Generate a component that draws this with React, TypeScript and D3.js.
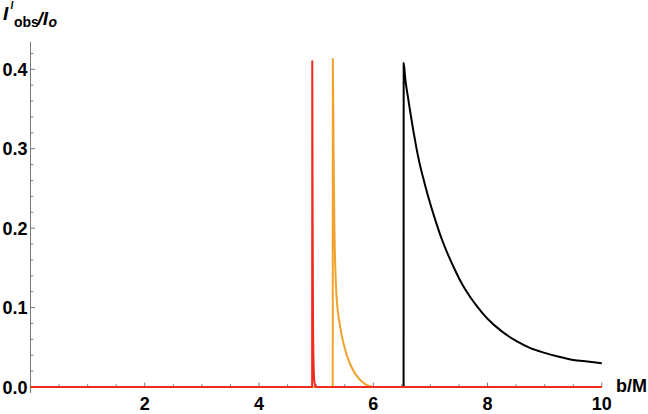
import React from "react";
import * as d3 from "d3";

// ---- data ----
const xTicksMajor = [2, 4, 6, 8, 10];
const yTicksMajor = [0.0, 0.1, 0.2, 0.3, 0.4];
const yTickLabels = ["0.0", "0.1", "0.2", "0.3", "0.4"];

const blackB = [0, 6.53, 6.532, 6.56, 6.6, 6.65, 6.7, 6.75, 6.8, 6.9, 7.0, 7.1, 7.2, 7.3, 7.4, 7.5, 7.6, 7.7, 7.8, 7.9, 8.0, 8.25, 8.5, 8.75, 9.0, 9.25, 9.5, 9.75, 10];
const blackI = [0, 0, 0.408, 0.388, 0.368, 0.345, 0.323, 0.303, 0.285, 0.256, 0.230, 0.207, 0.186, 0.168, 0.152, 0.137, 0.124, 0.113, 0.103, 0.094, 0.086, 0.070, 0.058, 0.049, 0.043, 0.038, 0.034, 0.032, 0.030];

const orangeB = [0, 5.29, 5.292, 5.305, 5.32, 5.34, 5.37, 5.4, 5.45, 5.5, 5.55, 5.6, 5.7, 5.8, 5.9, 6.0, 10];
const orangeI = [0, 0, 0.413, 0.30, 0.20, 0.14, 0.102, 0.085, 0.064, 0.049, 0.037, 0.028, 0.015, 0.007, 0.002, 0, 0];

const redB = [0, 4.93, 4.932, 4.938, 4.945, 4.955, 4.97, 5.0, 10];
const redI = [0, 0, 0.41, 0.22, 0.09, 0.03, 0.006, 0, 0];

const W = 648;
const H = 414;

export default function App() {
  const x = d3.scaleLinear().domain([0, 10]).range([30.5, 601.8]);
  const y = d3.scaleLinear().domain([0, 0.4]).range([387, 69.3]);
  const yTop = 0.4348;
  const yBottom = -0.0075;

  const line = d3
    .line<[number, number]>()
    .x((d) => x(d[0]))
    .y((d) => y(d[1]))
    .curve(d3.curveMonotoneX);

  const zip = (a: number[], b: number[]) => a.map((v, i) => [v, b[i]] as [number, number]);

  const axisColor = "#7a7a7a";
  const font = "'Liberation Sans', Arial, sans-serif";

  const xMinor = d3.range(0.5, 10.01, 0.5).filter((v) => Math.abs(v % 2) > 1e-6);
  const yMinor = d3.range(0.02, 0.4301, 0.02).filter((v) => Math.abs(Math.round(v * 10) - v * 10) > 1e-6);

  return (
    <svg width={W} height={H} style={{ position: "absolute", left: 0, top: 0, background: "#fff" }}>
      {/* axes */}
      <line x1={x(0)} x2={x(10)} y1={y(0)} y2={y(0)} stroke={axisColor} strokeWidth={1} />
      <line x1={x(0)} x2={x(0)} y1={y(yBottom)} y2={y(yTop)} stroke={axisColor} strokeWidth={1} />
      {xTicksMajor.map((t) => (
        <line key={"xM" + t} x1={x(t)} x2={x(t)} y1={y(0)} y2={y(0) - 4.5} stroke={axisColor} strokeWidth={1} />
      ))}
      {xMinor.map((t) => (
        <line key={"xm" + t} x1={x(t)} x2={x(t)} y1={y(0)} y2={y(0) - 2.8} stroke={axisColor} strokeWidth={1} />
      ))}
      {yTicksMajor.map((t) => (
        <line key={"yM" + t} x1={x(0)} x2={x(0) + 4.5} y1={y(t)} y2={y(t)} stroke={axisColor} strokeWidth={1} />
      ))}
      {yMinor.map((t) => (
        <line key={"ym" + t} x1={x(0)} x2={x(0) + 2.8} y1={y(t)} y2={y(t)} stroke={axisColor} strokeWidth={1} />
      ))}

      {/* tick labels */}
      {xTicksMajor.map((t) => (
        <text key={"xl" + t} x={x(t)} y={410} textAnchor="middle" fontFamily={font} fontWeight="bold" fontSize={18}>
          {t}
        </text>
      ))}
      {yTicksMajor.map((t, i) => (
        <text key={"yl" + t} x={27.5} y={y(t) + 6.5} textAnchor="end" fontFamily={font} fontWeight="bold" fontSize={18}>
          {yTickLabels[i]}
        </text>
      ))}

      {/* series */}
      <path d={line(zip(blackB, blackI)) || ""} fill="none" stroke="#000" strokeWidth={2} strokeLinejoin="round" />
      <path d={line(zip(orangeB, orangeI)) || ""} fill="none" stroke="#f2a22c" strokeWidth={2} strokeLinejoin="round" />
      <path d={line(zip(redB, redI)) || ""} fill="none" stroke="#f22a1e" strokeWidth={2} strokeLinejoin="round" />

      {/* axis labels */}
      <text x={616} y={392} fontFamily={font} fontWeight="bold" fontSize={18}>
        b/M
      </text>
      <g fontFamily={font} fontWeight="bold">
        <text x={3} y={20} fontSize={19} fontStyle="italic">I</text>
        <text x={10.5} y={9} fontSize={10} fontStyle="italic">I</text>
        <text x={14} y={27} fontSize={14}>obs</text>
        <text x={37.5} y={25} fontSize={19} fontStyle="italic">/I</text>
        <text x={48.5} y={26.5} fontSize={14} fontStyle="italic">o</text>
      </g>
    </svg>
  );
}
